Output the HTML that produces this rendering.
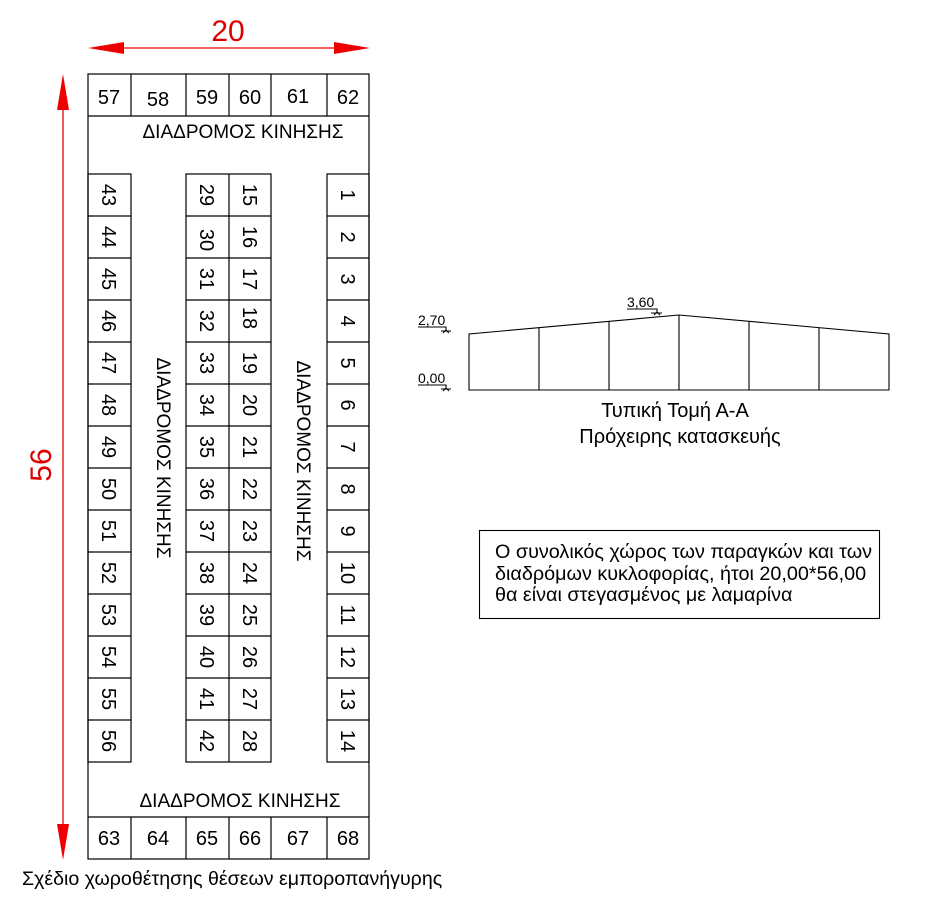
<!DOCTYPE html>
<html><head><meta charset="utf-8"><style>
html,body{margin:0;padding:0;background:#fff;}
svg{display:block;font-family:"Liberation Sans",Arial,sans-serif;}
</style></head><body>
<svg width="934" height="921" viewBox="0 0 934 921" xmlns="http://www.w3.org/2000/svg">
<g fill="none" stroke="#000" stroke-width="1.2">
<rect x="88" y="74" width="281" height="785"/>
<line x1="88" y1="116" x2="369" y2="116"/>
<line x1="88" y1="817" x2="369" y2="817"/>
<line x1="131" y1="74" x2="131" y2="116"/><line x1="186" y1="74" x2="186" y2="116"/><line x1="229" y1="74" x2="229" y2="116"/><line x1="271" y1="74" x2="271" y2="116"/><line x1="327" y1="74" x2="327" y2="116"/>
<line x1="131" y1="817" x2="131" y2="859"/><line x1="186" y1="817" x2="186" y2="859"/><line x1="229" y1="817" x2="229" y2="859"/><line x1="271" y1="817" x2="271" y2="859"/><line x1="327" y1="817" x2="327" y2="859"/>
<rect x="88" y="174" width="43" height="588"/>
<rect x="186" y="174" width="85" height="588"/>
<line x1="229" y1="174" x2="229" y2="762"/>
<rect x="327" y="174" width="42" height="588"/>
<path d="M88 216H131M88 258H131M88 300H131M88 342H131M88 384H131M88 426H131M88 468H131M88 510H131M88 552H131M88 594H131M88 636H131M88 678H131M88 720H131"/>
<path d="M186 216H271M186 258H271M186 300H271M186 342H271M186 384H271M186 426H271M186 468H271M186 510H271M186 552H271M186 594H271M186 636H271M186 678H271M186 720H271"/>
<path d="M327 216H369M327 258H369M327 300H369M327 342H369M327 384H369M327 426H369M327 468H369M327 510H369M327 552H369M327 594H369M327 636H369M327 678H369M327 720H369"/>
</g>
<g font-size="20" text-anchor="middle" fill="#000">
<text x="109" y="104">57</text><text x="158" y="106">58</text><text x="207" y="104">59</text><text x="250" y="104">60</text><text x="298" y="103">61</text><text x="348" y="104">62</text>
<text x="109" y="845">63</text><text x="158" y="845">64</text><text x="207" y="845">65</text><text x="250" y="845">66</text><text x="298" y="845">67</text><text x="348" y="845">68</text>
<text x="243" y="138" font-size="19">ΔΙΑΔΡΟΜΟΣ ΚΙΝΗΣΗΣ</text>
<text x="240" y="807" font-size="19">ΔΙΑΔΡΟΜΟΣ ΚΙΝΗΣΗΣ</text>
<text font-size="19" transform="translate(157,458) rotate(90)">ΔΙΑΔΡΟΜΟΣ ΚΙΝΗΣΗΣ</text>
<text font-size="19" transform="translate(297,461) rotate(90)">ΔΙΑΔΡΟΜΟΣ ΚΙΝΗΣΗΣ</text>
<g transform="translate(102,0)">
<text transform="translate(0,195) rotate(90)">43</text><text transform="translate(0,237) rotate(90)">44</text><text transform="translate(0,279) rotate(90)">45</text><text transform="translate(0,321) rotate(90)">46</text><text transform="translate(0,363) rotate(90)">47</text><text transform="translate(0,405) rotate(90)">48</text><text transform="translate(0,447) rotate(90)">49</text><text transform="translate(0,489) rotate(90)">50</text><text transform="translate(0,531) rotate(90)">51</text><text transform="translate(0,573) rotate(90)">52</text><text transform="translate(0,615) rotate(90)">53</text><text transform="translate(0,657) rotate(90)">54</text><text transform="translate(0,699) rotate(90)">55</text><text transform="translate(0,741) rotate(90)">56</text>
</g>
<g transform="translate(200,0)">
<text transform="translate(0,195) rotate(90)">29</text><text transform="translate(0,240) rotate(90)">30</text><text transform="translate(0,279) rotate(90)">31</text><text transform="translate(0,321) rotate(90)">32</text><text transform="translate(0,363) rotate(90)">33</text><text transform="translate(0,405) rotate(90)">34</text><text transform="translate(0,447) rotate(90)">35</text><text transform="translate(0,489) rotate(90)">36</text><text transform="translate(0,531) rotate(90)">37</text><text transform="translate(0,573) rotate(90)">38</text><text transform="translate(0,615) rotate(90)">39</text><text transform="translate(0,657) rotate(90)">40</text><text transform="translate(0,699) rotate(90)">41</text><text transform="translate(0,741) rotate(90)">42</text>
</g>
<g transform="translate(243,0)">
<text transform="translate(0,195) rotate(90)">15</text><text transform="translate(0,237) rotate(90)">16</text><text transform="translate(0,279) rotate(90)">17</text><text transform="translate(0,318) rotate(90)">18</text><text transform="translate(0,363) rotate(90)">19</text><text transform="translate(0,405) rotate(90)">20</text><text transform="translate(0,447) rotate(90)">21</text><text transform="translate(0,489) rotate(90)">22</text><text transform="translate(0,531) rotate(90)">23</text><text transform="translate(0,573) rotate(90)">24</text><text transform="translate(0,615) rotate(90)">25</text><text transform="translate(0,657) rotate(90)">26</text><text transform="translate(0,699) rotate(90)">27</text><text transform="translate(0,741) rotate(90)">28</text>
</g>
<g transform="translate(341,0)">
<text transform="translate(0,195) rotate(90)">1</text><text transform="translate(0,237) rotate(90)">2</text><text transform="translate(0,279) rotate(90)">3</text><text transform="translate(0,321) rotate(90)">4</text><text transform="translate(0,363) rotate(90)">5</text><text transform="translate(0,405) rotate(90)">6</text><text transform="translate(0,447) rotate(90)">7</text><text transform="translate(0,489) rotate(90)">8</text><text transform="translate(0,531) rotate(90)">9</text><text transform="translate(0,573) rotate(90)">10</text><text transform="translate(0,615) rotate(90)">11</text><text transform="translate(0,657) rotate(90)">12</text><text transform="translate(0,699) rotate(90)">13</text><text transform="translate(0,741) rotate(90)">14</text>
</g>
</g>
<!-- red dimensions -->
<g fill="#e00" stroke="#e00">
<line x1="100" y1="48" x2="358" y2="48" stroke-width="1.3"/>
<polygon points="88,48 124,42 124,54" stroke="none"/>
<polygon points="370,48 334,42 334,54" stroke="none"/>
<line x1="63" y1="90" x2="63" y2="845" stroke-width="1.3"/>
<polygon points="63,74 57,110 69,110" stroke="none"/>
<polygon points="63,860 57,824 69,824" stroke="none"/>
</g>
<text x="228" y="41" font-size="30" text-anchor="middle" fill="#d00">20</text>
<text transform="translate(51,465) rotate(-90)" font-size="30" text-anchor="middle" fill="#d00">56</text>
<!-- section -->
<g fill="none" stroke="#000" stroke-width="1.1">
<path d="M469 390H889V334L679 315L469 334Z"/>
<path d="M539 390V328M609 390V321M679 390V315M749 390V321M819 390V328"/>
<path d="M418 327H446V331M441 331H451M443 333L446 330L449 333"/>
<path d="M418 385H446V389M441 389H451M443 391L446 388L449 391"/>
<path d="M627 309H657V313M651 313H662M654 315L657 312L660 315"/>
</g>
<g font-size="14" fill="#000">
<text x="418" y="325">2,70</text><text x="418" y="383">0,00</text><text x="627" y="307">3,60</text>
</g>
<g font-size="20" fill="#000" text-anchor="middle">
<text x="675" y="417">Τυπική Τομή Α-Α</text>
<text x="680" y="443">Πρόχειρης κατασκευής</text>
</g>
<rect x="479.5" y="530.5" width="400" height="88" fill="none" stroke="#000" stroke-width="1.1"/>
<g font-size="19.8" fill="#000">
<text x="495" y="558">Ο συνολικός χώρος των παραγκών και των</text>
<text x="495" y="580">διαδρόμων κυκλοφορίας, ήτοι 20,00*56,00</text>
<text x="495" y="601">θα είναι στεγασμένος με λαμαρίνα</text>
</g>
<text x="22" y="885" font-size="19.6" fill="#000">Σχέδιο χωροθέτησης θέσεων εμποροπανήγυρης</text>
</svg>
</body></html>
